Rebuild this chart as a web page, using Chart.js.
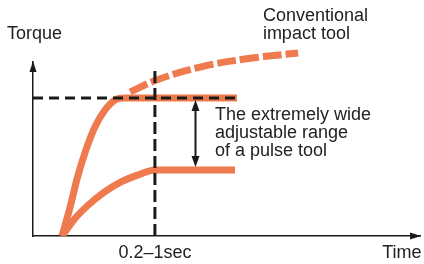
<!DOCTYPE html>
<html>
<head>
<meta charset="utf-8">
<script src="https://cdn.jsdelivr.net/npm/chart.js@4.4.0/dist/chart.umd.min.js"></script>
<style>
  html, body { margin: 0; padding: 0; background: #fff; }
  #wrap { width: 424px; height: 264px; }
</style>
</head>
<body>
<div id="wrap"><canvas id="myChart"></canvas></div>
<script>
// time and torque in arbitrary units (0-100)
const pulseFastX = [7.5, 9.6, 11.3, 13.4, 16.0, 18.6, 21.2, 23.8, 52.7];
const pulseFastY = [0, 16.7, 32.2, 47.7, 62.6, 72.4, 78.2, 79.3, 79.3];
const pulseSlowX = [7.5, 10.9, 14.3, 18.6, 22.9, 27.2, 31.5, 52.2];
const pulseSlowY = [0, 10.2, 17.8, 25.5, 31.2, 35.1, 37.9, 37.9];
const impactX = [25.1, 32.0, 43.2, 54.8, 68.5];
const impactY = [82.8, 89.7, 97.1, 101.7, 105.2];
const settleTime = 31.5;   // the 0.2-1sec mark
const settleTop = 94.8;
const maxTorque = 79.3;
const maxTorqueEnd = 52.7;
const minTorque = 37.9;
const rangeX = 41.9;
const tickValues = [settleTime, 95.3];
const tickLabels = ['0.2–1sec', 'Time'];

const ORANGE = '#EE7A4E';
const INK = '#1a1a1a';
const FONT = '"Liberation Sans", Arial, Helvetica, sans-serif';

function toPoints(xs, ys) {
  return xs.map((x, i) => ({ x: x, y: ys[i] }));
}

// text notes placed in data units
const notes = [
  { lines: ['Torque'], x: -6.7, y: 113.2 },
  { lines: ['Conventional', 'impact tool'], x: 59.4, y: 123.6 },
  { lines: ['The extremely wide', 'adjustable range', 'of a pulse tool'], x: 47.0, y: 66.7 }
];

function arrowHead(ctx, x, y, dir, len, half) {
  // dir: 'up' | 'down' | 'right'
  ctx.beginPath();
  if (dir == 'up') {
    ctx.moveTo(x, y); ctx.lineTo(x - half, y + len); ctx.lineTo(x + half, y + len);
  } else if (dir == 'down') {
    ctx.moveTo(x, y); ctx.lineTo(x - half, y - len); ctx.lineTo(x + half, y - len);
  } else {
    ctx.moveTo(x, y); ctx.lineTo(x - len, y - half); ctx.lineTo(x - len, y + half);
  }
  ctx.closePath();
  ctx.fill();
}

const extras = {
  id: 'extras',
  afterDraw(chart) {
    const ctx = chart.ctx;
    const xs = chart.scales.x, ys = chart.scales.y;
    const area = chart.chartArea;
    ctx.save();
    ctx.fillStyle = INK;
    ctx.strokeStyle = INK;

    // axis arrow heads
    arrowHead(ctx, area.left, area.top - 1, 'up', 11, 3.5);
    arrowHead(ctx, area.right + 1, area.bottom, 'right', 11, 3.5);

    // double arrow for the adjustable range
    const ax = Math.round(xs.getPixelForValue(rangeX)) + 0.5;
    const top = ys.getPixelForValue(maxTorque) + 2;
    const bot = ys.getPixelForValue(minTorque) - 3;
    ctx.lineWidth = 2;
    ctx.beginPath();
    ctx.moveTo(ax, top + 8);
    ctx.lineTo(ax, bot - 8);
    ctx.stroke();
    arrowHead(ctx, ax, top, 'up', 11, 4);
    arrowHead(ctx, ax, bot, 'down', 11, 4);

    ctx.font = '18px ' + FONT;
    ctx.textBaseline = 'alphabetic';
    ctx.fillStyle = '#222';

    // x tick labels under the axis
    ctx.textAlign = 'center';
    tickValues.forEach((v, i) => {
      ctx.fillText(tickLabels[i], xs.getPixelForValue(v), area.bottom + 22);
    });

    // notes
    ctx.textAlign = 'left';
    notes.forEach(n => {
      const px = xs.getPixelForValue(n.x);
      const py = ys.getPixelForValue(n.y);
      n.lines.forEach((t, i) => ctx.fillText(t, px, py + i * 18.2));
    });
    ctx.restore();
  }
};

const ctx = document.getElementById('myChart');
new Chart(ctx, {
  type: 'line',
  data: {
    datasets: [{
      label: 'settle',
      data: [{ x: settleTime, y: 0 }, { x: settleTime, y: settleTop }],
      borderColor: INK, borderWidth: 3, borderDash: [12, 5], pointRadius: 0
    }, {
      label: 'max',
      data: [{ x: 0, y: maxTorque }, { x: maxTorqueEnd, y: maxTorque }],
      borderColor: INK, borderWidth: 3, borderDash: [10, 6], pointRadius: 0
    }, {
      label: 'Conventional impact tool',
      data: toPoints(impactX, impactY),
      borderColor: ORANGE, borderWidth: 7, borderDash: [19, 4],
      pointRadius: 0, tension: 0.4, clip: false
    }, {
      label: 'Pulse tool fast',
      data: toPoints(pulseFastX, pulseFastY),
      borderColor: ORANGE, borderWidth: 7, pointRadius: 0,
      cubicInterpolationMode: 'monotone'
    }, {
      label: 'Pulse tool slow',
      data: toPoints(pulseSlowX, pulseSlowY),
      borderColor: ORANGE, borderWidth: 7, pointRadius: 0,
      cubicInterpolationMode: 'monotone'
    }]
  },
  options: {
    responsive: true,
    maintainAspectRatio: false,
    animation: false,
    layout: { padding: { left: 33, right: 4, top: 62, bottom: 28 } },
    plugins: { legend: { display: false }, tooltip: { enabled: false } },
    scales: {
      x: {
        type: 'linear', min: 0, max: 100,
        grid: { display: false, drawTicks: false },
        border: { display: true, color: INK, width: 1.5 },
        ticks: { display: false }
      },
      y: {
        type: 'linear', min: 0, max: 100,
        grid: { display: false, drawTicks: false },
        border: { display: true, color: INK, width: 1.5 },
        ticks: { display: false }
      }
    }
  },
  plugins: [extras]
});
</script>
</body>
</html>
